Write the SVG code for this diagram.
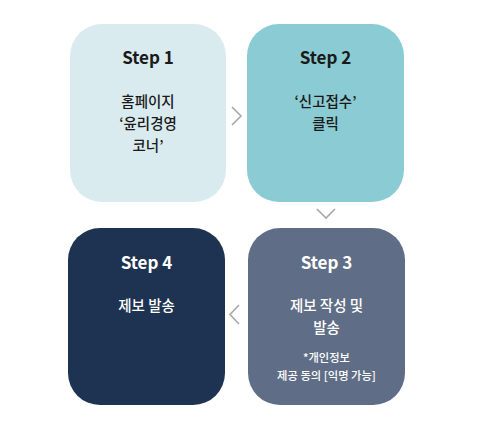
<svg xmlns="http://www.w3.org/2000/svg" width="480" height="430" viewBox="0 0 480 430">
<style>
.t{font-family:"Noto Sans CJK KR","Noto Sans",sans-serif;text-anchor:middle}
.h{font-size:17px;font-weight:700}
.b{font-size:14.5px;font-weight:500}
.s{font-size:11.3px;font-weight:500}
.dk{fill:#1a1a1a}
.wh{fill:#ffffff}
.ch{fill:none;stroke:#a8a8a8;stroke-width:1.6}
</style>
<rect width="480" height="430" fill="#ffffff"/>
<g id="step1">
<rect x="70" y="24" width="156" height="178" rx="32" fill="#d9ebef"/>
<text class="t h dk" x="148" y="64">Step 1</text>
<text class="t b dk" x="148" y="107">홈페이지</text>
<text class="t b dk" x="148" y="129">‘윤리경영</text>
<text class="t b dk" x="148" y="151">코너’</text>
</g>
<g id="step2">
<rect x="247" y="24" width="157" height="178" rx="32" fill="#8bcbd3"/>
<text class="t h dk" x="325.5" y="64">Step 2</text>
<text class="t b dk" x="325.5" y="107">‘신고접수’</text>
<text class="t b dk" x="325.5" y="129">클릭</text>
</g>
<g id="step3">
<rect x="248" y="228" width="157" height="177" rx="32" fill="#5f6e86"/>
<text class="t h wh" x="326.5" y="269">Step 3</text>
<text class="t b wh" x="326.5" y="311">제보 작성 및</text>
<text class="t b wh" x="326.5" y="333">발송</text>
<text class="t s wh" x="326.5" y="362">*개인정보</text>
<text class="t s wh" x="326.5" y="380">제공 동의 [익명 가능]</text>
</g>
<g id="step4">
<rect x="68" y="228" width="157" height="177" rx="32" fill="#1e3352"/>
<text class="t h wh" x="146.5" y="269">Step 4</text>
<text class="t b wh" x="146.5" y="311">제보 발송</text>
</g>
<g id="connectors">
<polyline class="ch" points="232,107 241,116 232,125"/>
<polyline class="ch" points="317,209 326,218 335,209"/>
<polyline class="ch" points="239,305 230,314.5 239,324"/>
</g>
</svg>
